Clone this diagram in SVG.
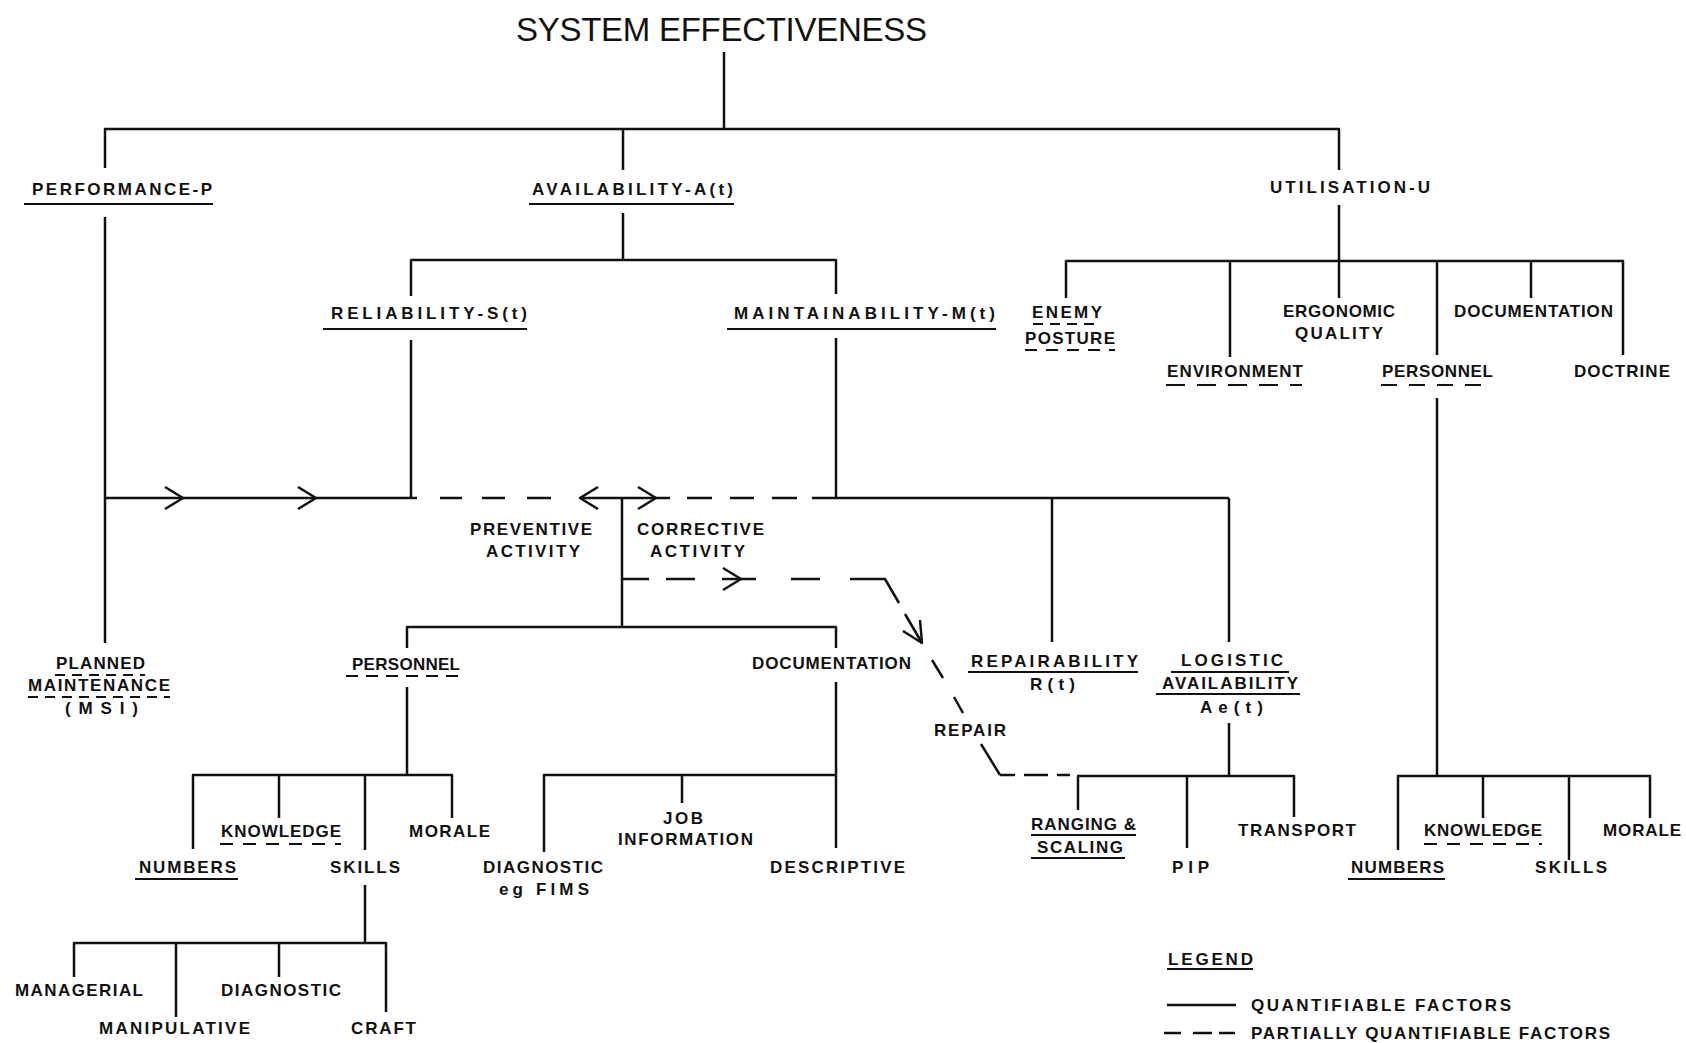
<svg xmlns="http://www.w3.org/2000/svg" width="1686" height="1043" viewBox="0 0 1686 1043">
<style>
.t{font-family:"Liberation Sans Narrow","Liberation Sans",Arial,sans-serif;font-weight:bold;font-size:17px;fill:#111}
.title{font-family:"Liberation Sans Narrow","Liberation Sans",Arial,sans-serif;font-size:33px;fill:#111}
.c{fill:none;stroke:#111;stroke-width:2.5;stroke-linejoin:round}
.u{stroke:#111;stroke-width:2}
.ud{stroke:#111;stroke-width:2;stroke-dasharray:14 9}
</style>
<rect width="1686" height="1043" fill="#fff"/>
<g id="connectors">
<path class="c" d="M724 52V129M105 168V129H1339V170M623 129V170"/>
<path class="c" d="M623 213V260M411 296V260H836V294"/>
<path class="c" d="M411 340V498M105 217V643M105 498H417"/>
<path class="c" d="M836 338V498H1229M1052 498V642M1229 498V642"/>
<path class="c" d="M580 498H670M622 498V627M407 648V627H836V648"/>
<path class="c" d="M440 498H462M482 498H505M527 498H551M687 498H712M730 498H754M772 498H797M812 498H836"/>
<path class="c" d="M165 487L183 498L165 509M298 487L316 498L298 509M598 487L580 498L598 509M638 487L656 498L638 509"/>
<path class="c" d="M622 579H649M666 579H695M722 579H756M791 579H820M850 579H885L899 603M905 614L922 643M932 660L943 678M954 697L963 713M981 744L1000 775M1000 775H1015M1024 775H1048M1057 775H1070"/>
<path class="c" d="M723 568L741 579L723 590M920 620L922 643L903 631"/>
<path class="c" d="M407 687V775M193 849V775H452V818M279 775V818M365 775V850"/>
<path class="c" d="M365 885V943M74 977V943H386V1012M176 943V1017M279 943V977"/>
<path class="c" d="M836 682V848M544 852V775H836M682 775V803"/>
<path class="c" d="M1229 723V776M1077 776H1294V817M1078 776V810M1187 776V848"/>
<path class="c" d="M1437 398V776M1398 850V776H1650V818M1483 776V818M1569 776V860"/>
<path class="c" d="M1339 205V298M1066 298V261H1623V355M1230 261V357M1437 261V355M1531 261V298"/>
</g>
<g id="n-title"><text class="title" x="516" y="41" textLength="411" lengthAdjust="spacing">SYSTEM EFFECTIVENESS</text></g>
<g id="n-performance"><text class="t" x="32" y="195" textLength="180" lengthAdjust="spacing">PERFORMANCE-P</text><line class="u" x1="24" y1="204" x2="213" y2="204"/></g>
<g id="n-availability"><text class="t" x="532" y="195" textLength="201" lengthAdjust="spacing">AVAILABILITY-A(t)</text><line class="u" x1="529" y1="204" x2="734" y2="204"/></g>
<g id="n-utilisation"><text class="t" x="1270" y="193" textLength="160" lengthAdjust="spacing">UTILISATION-U</text></g>
<g id="n-reliability"><text class="t" x="331" y="319" textLength="196" lengthAdjust="spacing">RELIABILITY-S(t)</text><line class="u" x1="323" y1="329" x2="527" y2="329"/></g>
<g id="n-maintainability"><text class="t" x="734" y="319" textLength="261" lengthAdjust="spacing">MAINTAINABILITY-M(t)</text><line class="u" x1="727" y1="329" x2="996" y2="329"/></g>
<g id="n-enemy-posture"><text class="t" x="1032" y="318" textLength="70" lengthAdjust="spacing">ENEMY</text><line class="ud" x1="1033" y1="324" x2="1101" y2="324" style="stroke-dasharray:10 7"/><text class="t" x="1025" y="344" textLength="90" lengthAdjust="spacing">POSTURE</text><line class="ud" x1="1025" y1="350" x2="1115" y2="350" style="stroke-dasharray:12 9"/></g>
<g id="n-ergonomic"><text class="t" x="1283" y="317" textLength="112" lengthAdjust="spacing">ERGONOMIC</text><text class="t" x="1295" y="339" textLength="88" lengthAdjust="spacing">QUALITY</text></g>
<g id="n-documentation-u"><text class="t" x="1454" y="317" textLength="159" lengthAdjust="spacing">DOCUMENTATION</text></g>
<g id="n-environment"><text class="t" x="1167" y="377" textLength="136" lengthAdjust="spacing">ENVIRONMENT</text><line class="ud" x1="1166" y1="385" x2="1302" y2="385" style="stroke-dasharray:19 12"/></g>
<g id="n-personnel-u"><text class="t" x="1382" y="377" textLength="111" lengthAdjust="spacing">PERSONNEL</text><line class="ud" x1="1381" y1="385" x2="1492" y2="385" style="stroke-dasharray:16 12"/></g>
<g id="n-doctrine"><text class="t" x="1574" y="377" textLength="96" lengthAdjust="spacing">DOCTRINE</text></g>
<g id="n-preventive"><text class="t" x="470" y="535" textLength="122" lengthAdjust="spacing">PREVENTIVE</text><text class="t" x="486" y="557" textLength="94" lengthAdjust="spacing">ACTIVITY</text></g>
<g id="n-corrective"><text class="t" x="637" y="535" textLength="127" lengthAdjust="spacing">CORRECTIVE</text><text class="t" x="650" y="557" textLength="95" lengthAdjust="spacing">ACTIVITY</text></g>
<g id="n-planned"><text class="t" x="56" y="669" textLength="89" lengthAdjust="spacing">PLANNED</text><line class="ud" x1="55" y1="675" x2="145" y2="675" style="stroke-dasharray:10 7"/><text class="t" x="28" y="691" textLength="142" lengthAdjust="spacing">MAINTENANCE</text><line class="ud" x1="28" y1="697" x2="170" y2="697" style="stroke-dasharray:10 7"/><text class="t" x="65" y="714" textLength="73" lengthAdjust="spacing">(MSI)</text></g>
<g id="n-personnel-m"><text class="t" x="352" y="670" textLength="108" lengthAdjust="spacing">PERSONNEL</text><line class="ud" x1="346" y1="676" x2="462" y2="676" style="stroke-dasharray:12 8"/></g>
<g id="n-documentation-m"><text class="t" x="752" y="669" textLength="159" lengthAdjust="spacing">DOCUMENTATION</text></g>
<g id="n-repairability"><text class="t" x="971" y="667" textLength="167" lengthAdjust="spacing">REPAIRABILITY</text><line class="u" x1="968" y1="672" x2="1138" y2="672"/><text class="t" x="1030" y="690" textLength="45" lengthAdjust="spacing">R(t)</text></g>
<g id="n-logistic"><text class="t" x="1181" y="666" textLength="102" lengthAdjust="spacing">LOGISTIC</text><line class="u" x1="1171" y1="672" x2="1289" y2="672"/><text class="t" x="1162" y="689" textLength="136" lengthAdjust="spacing">AVAILABILITY</text><line class="u" x1="1156" y1="694" x2="1300" y2="694"/><text class="t" x="1200" y="713" textLength="63" lengthAdjust="spacing">Ae(t)</text></g>
<g id="n-repair"><text class="t" x="934" y="736" textLength="72" lengthAdjust="spacing">REPAIR</text></g>
<g id="n-job"><text class="t" x="663" y="824" textLength="40" lengthAdjust="spacing">JOB</text><text class="t" x="618" y="845" textLength="135" lengthAdjust="spacing">INFORMATION</text></g>
<g id="n-diagnostic-doc"><text class="t" x="483" y="873" textLength="120" lengthAdjust="spacing">DIAGNOSTIC</text><text class="t" x="499" y="895" textLength="90" lengthAdjust="spacing">eg FIMS</text></g>
<g id="n-descriptive"><text class="t" x="770" y="873" textLength="135" lengthAdjust="spacing">DESCRIPTIVE</text></g>
<g id="n-knowledge-m"><text class="t" x="221" y="837" textLength="120" lengthAdjust="spacing">KNOWLEDGE</text><line class="ud" x1="220" y1="844" x2="341" y2="844" style="stroke-dasharray:13 10"/></g>
<g id="n-morale-m"><text class="t" x="409" y="837" textLength="81" lengthAdjust="spacing">MORALE</text></g>
<g id="n-numbers-m"><text class="t" x="139" y="873" textLength="97" lengthAdjust="spacing">NUMBERS</text><line class="u" x1="135" y1="879" x2="238" y2="879"/></g>
<g id="n-skills-m"><text class="t" x="330" y="873" textLength="70" lengthAdjust="spacing">SKILLS</text></g>
<g id="n-managerial"><text class="t" x="15" y="996" textLength="128" lengthAdjust="spacing">MANAGERIAL</text></g>
<g id="n-diagnostic-s"><text class="t" x="221" y="996" textLength="120" lengthAdjust="spacing">DIAGNOSTIC</text></g>
<g id="n-manipulative"><text class="t" x="99" y="1034" textLength="151" lengthAdjust="spacing">MANIPULATIVE</text></g>
<g id="n-craft"><text class="t" x="351" y="1034" textLength="65" lengthAdjust="spacing">CRAFT</text></g>
<g id="n-ranging"><text class="t" x="1031" y="830" textLength="105" lengthAdjust="spacing">RANGING &amp;</text><line class="u" x1="1031" y1="835" x2="1136" y2="835"/><text class="t" x="1037" y="853" textLength="86" lengthAdjust="spacing">SCALING</text><line class="u" x1="1031" y1="858" x2="1125" y2="858"/></g>
<g id="n-pip"><text class="t" x="1172" y="873" textLength="37" lengthAdjust="spacing">PIP</text></g>
<g id="n-transport"><text class="t" x="1238" y="836" textLength="118" lengthAdjust="spacing">TRANSPORT</text></g>
<g id="n-numbers-u"><text class="t" x="1351" y="873" textLength="93" lengthAdjust="spacing">NUMBERS</text><line class="u" x1="1348" y1="879" x2="1445" y2="879"/></g>
<g id="n-knowledge-u"><text class="t" x="1424" y="836" textLength="118" lengthAdjust="spacing">KNOWLEDGE</text><line class="ud" x1="1424" y1="844" x2="1542" y2="844" style="stroke-dasharray:13 10"/></g>
<g id="n-skills-u"><text class="t" x="1535" y="873" textLength="72" lengthAdjust="spacing">SKILLS</text></g>
<g id="n-morale-u"><text class="t" x="1603" y="836" textLength="78" lengthAdjust="spacing">MORALE</text></g>
<g id="legend">
<text class="t" x="1168" y="965" textLength="85" lengthAdjust="spacing">LEGEND</text><line class="u" x1="1167" y1="969" x2="1253" y2="969"/>
<path class="c" d="M1167 1005H1236"/>
<text class="t" x="1251" y="1011" textLength="260" lengthAdjust="spacing">QUANTIFIABLE FACTORS</text>
<path class="c" d="M1164 1033H1181M1193 1033H1212M1219 1033H1235"/>
<text class="t" x="1251" y="1039" textLength="359" lengthAdjust="spacing">PARTIALLY QUANTIFIABLE FACTORS</text>
</g>
</svg>
